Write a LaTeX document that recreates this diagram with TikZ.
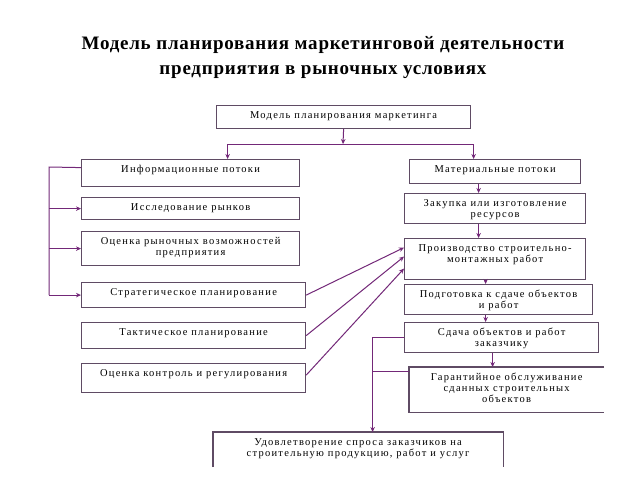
\documentclass[tikz,border=0pt]{standalone}
\usepackage{fontspec}
\setmainfont{Liberation Serif}
\newfontfamily\boxfont[LetterSpace=12]{Liberation Serif}
\newfontfamily\titlefont[LetterSpace=4]{Liberation Serif}
\usetikzlibrary{arrows.meta}

\definecolor{boxgray}{RGB}{95,75,100}
\definecolor{linkpurple}{RGB}{115,40,120}

% box contents: width, height, text
\newcommand{\btext}[3]{\parbox[c][#2pt][t]{#1pt}{\centering\rule{0pt}{12.5pt}#3}}

\tikzset{
  blk/.style={draw=boxgray, line width=1.2pt, inner sep=0pt, anchor=north west,
    font=\boxfont\fontsize{10.5}{11}\selectfont},
  openblk/.style={blk, draw=none},
  link/.style={draw=linkpurple, line width=1pt},
}

\begin{document}
\begin{tikzpicture}[x=1pt,y=-1pt,>={Stealth[length=5pt,width=4.5pt]}]

    \fill[white] (0,0) rectangle (640,480);
    \useasboundingbox (0,0) rectangle (640,480);

    \node[font=\titlefont\fontsize{19}{25}\selectfont\bfseries, align=center] (title) at (323,57.5)
        {Модель планирования маркетинговой деятельности\\предприятия в рыночных условиях};

    % top
    \node[blk] (top) at (216,105) {\btext{254}{23}{Модель планирования маркетинга}};

    % left column
    \node[blk] (info)  at (81,159) {\btext{218}{27}{Информационные потоки}};
    \node[blk] (res)   at (81,197) {\btext{218}{22}{Исследование рынков}};
    \node[blk] (opp)   at (81,231) {\btext{218}{34}{Оценка рыночных возможностей\\предприятия}};
    \node[blk] (strat) at (81,282) {\btext{224}{25}{Стратегическое планирование}};
    \node[blk] (tact)  at (81,322) {\btext{224}{26}{Тактическое планирование}};
    \node[blk] (ctrl)  at (81,363) {\btext{224}{29}{Оценка контроль и регулирования}};

    % right column
    \node[blk] (mat)   at (409,159) {\btext{171}{24}{Материальные потоки}};
    \node[blk] (pur)   at (404,193) {\btext{181}{30}{Закупка или изготовление\\ресурсов}};
    \node[blk] (prod)  at (404,238) {\btext{181}{41}{Производство строительно-\\монтажных работ}};
    \node[blk] (prep)  at (404,284) {\btext{188}{30}{Подготовка к сдаче объектов\\и работ}};
    \node[blk] (deliv) at (404,322) {\btext{194}{30}{Сдача объектов и работ\\заказчику}};
    \node[openblk] (war) at (409,367) {\btext{194}{44}{Гарантийное обслуживание\\сданных строительных\\объектов}};
    \node[openblk] (sat) at (213,432) {\btext{289}{34}{Удовлетворение спроса заказчиков на\\строительную продукцию, работ и услуг}};
    \draw[draw=boxgray, line width=1.2pt] (war.north east) -- (war.north west) -- (war.south west) -- (war.south east);
    \draw[draw=boxgray, line width=1.2pt] (sat.south west) -- (sat.north west) -- (sat.north east) -- (sat.south east);

    % split under the top box
    \coordinate (split) at (343,144);
    \draw[link,->] (top.south) -- (split);
    \draw[link,->] (split) -| ([xshift=37pt]info.north);
    \draw[link,->] (split) -| ([xshift=-21.5pt]mat.north);

    % left bracket
    \coordinate (lbus) at (49,167);
    \draw[link] ([yshift=5.5pt]info.west) -- (lbus) -- (lbus |- strat.west);
    \foreach \n in {res,opp,strat}
        \draw[link,->] (lbus |- \n.west) -- (\n.west);

    % right chain
    \draw[link,->] ([xshift=-16.5pt]mat.south) -- ([xshift=-16.5pt]mat.south |- pur.north);
    \draw[link,->] ([xshift=-16.5pt]pur.south) -- ([xshift=-16.5pt]pur.south |- prod.north);
    \draw[link,->] ([xshift=-9.5pt]prod.south) -- ([xshift=-9.5pt]prod.south |- prep.north);
    \draw[link,->] ([xshift=-13pt]prep.south) -- ([xshift=-13pt]prep.south |- deliv.north);
    \draw[link,->] ([xshift=-9pt]deliv.south) -- ([xshift=-9pt]deliv.south |- war.north);

    % planning to production
    \draw[link,->] (strat.east) -- ([yshift=11.5pt]prod.west);
    \draw[link,->] (tact.east) -- ([yshift=2.5pt]prod.west);
    \draw[link,->] ([yshift=3pt]ctrl.east) -- ([yshift=-9.5pt]prod.west);

    % delivery to demand
    \coordinate (vbus) at ([xshift=14.5pt]sat.north);
    \draw[link,->] (deliv.west) -| (vbus);
    \draw[link] ([yshift=18pt]war.west) -- ++(-37,0);

\end{tikzpicture}
\end{document}
